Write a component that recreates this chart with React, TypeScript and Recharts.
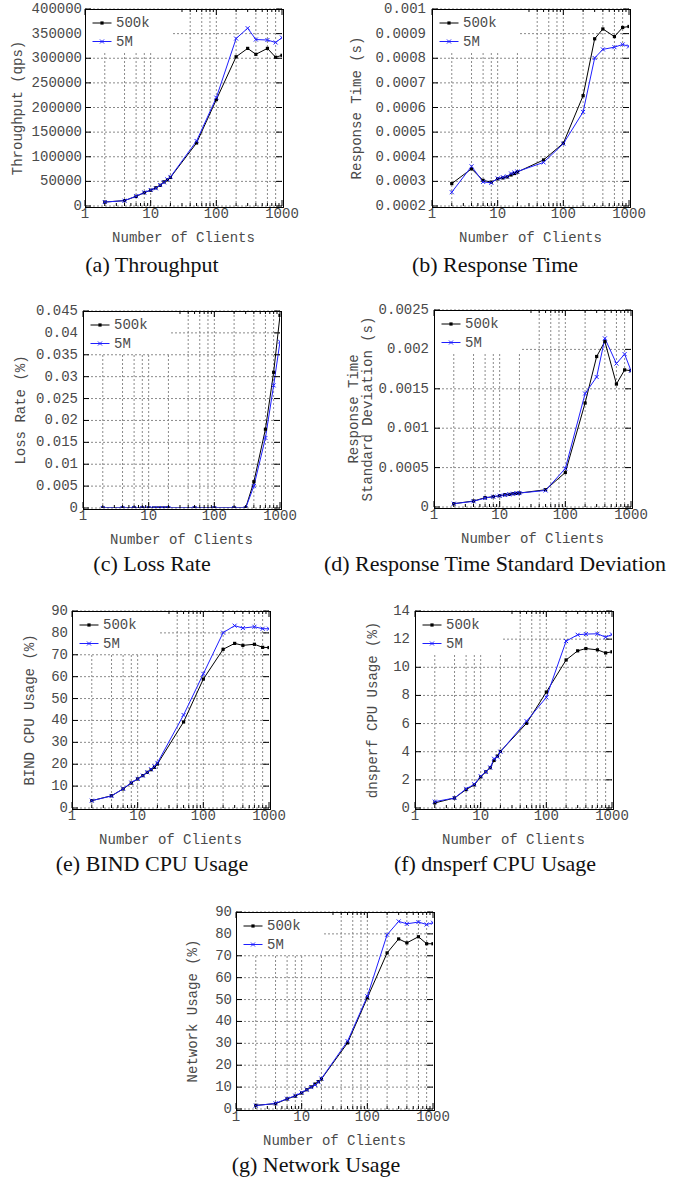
import React from 'react';
import { LineChart, Line, XAxis, YAxis, CartesianGrid, Legend } from 'recharts';

// ---------- data ----------
const CLIENTS = [2, 4, 6, 8, 10, 12, 14, 16, 18, 20, 50, 100, 200, 300, 400, 600, 800, 1000];
const X_TICKS = [1, 2, 3, 4, 5, 6, 7, 8, 9, 10, 20, 30, 40, 50, 60, 70, 80, 90, 100, 200, 300, 400, 500, 600, 700, 800, 900, 1000];
const X_GRID = [2, 4, 6, 8, 10, 20, 40, 60, 80, 100, 200, 400, 600, 800];
const X_LABELS = [1, 10, 100, 1000];
const SERIES_NAMES = ['500k', '5M'];

const throughput500k = [8000, 11000, 19500, 27000, 32000, 37000, 42000, 49000, 53000, 58000, 128000, 216000, 303000, 320000, 308000, 320000, 302000, 306000];
const throughput5M = [8000, 10800, 20000, 27500, 32500, 36000, 42500, 48000, 54000, 59000, 132000, 220000, 340000, 361000, 338000, 337000, 332000, 342000];
const throughputTicks = [0, 50000, 100000, 150000, 200000, 250000, 300000, 350000, 400000];
const throughputTickLabels = ['0', '50000', '100000', '150000', '200000', '250000', '300000', '350000', '400000'];

const rt500k = [0.000291, 0.000351, 0.000304, 0.000297, 0.00031, 0.000314, 0.000318, 0.000326, 0.000332, 0.000338, 0.000387, 0.000455, 0.000648, 0.000879, 0.000919, 0.000888, 0.000925, 0.000929];
const rt5M = [0.000256, 0.000361, 0.000298, 0.000294, 0.000312, 0.000317, 0.00032, 0.000332, 0.000336, 0.00034, 0.000377, 0.000453, 0.000582, 0.000801, 0.000836, 0.000845, 0.000856, 0.000848];
const rtTicks = [0.0002, 0.0003, 0.0004, 0.0005, 0.0006, 0.0007, 0.0008, 0.0009, 0.001];
const rtTickLabels = ['0.0002', '0.0003', '0.0004', '0.0005', '0.0006', '0.0007', '0.0008', '0.0009', '0.001'];

const loss500k = [0, 0, 0, 0, 0, 0, 0, 0, 0, 0, 0, 0, 0, 0, 0.006, 0.018, 0.031, 0.044];
const loss5M = [0, 0, 0, 0, 0, 0, 0, 0, 0, 0, 0, 0, 0, 0, 0.005, 0.016, 0.028, 0.038];
const lossTicks = [0, 0.005, 0.01, 0.015, 0.02, 0.025, 0.03, 0.035, 0.04, 0.045];
const lossTickLabels = ['0', '0.005', '0.01', '0.015', '0.02', '0.025', '0.03', '0.035', '0.04', '0.045'];

const rtsd500k = [0.000042, 0.000076, 0.000118, 0.000131, 0.000143, 0.000156, 0.00016, 0.000169, 0.000173, 0.000177, 0.000219, 0.000438, 0.00132, 0.00191, 0.0021, 0.00156, 0.00174, 0.00173];
const rtsd5M = [0.000042, 0.000072, 0.000114, 0.000131, 0.000143, 0.000152, 0.00016, 0.000169, 0.000173, 0.000177, 0.00021, 0.000489, 0.00144, 0.00165, 0.00214, 0.00182, 0.00194, 0.00173];
const rtsdTicks = [0, 0.0005, 0.001, 0.0015, 0.002, 0.0025];
const rtsdTickLabels = ['0', '0.0005', '0.001', '0.0015', '0.002', '0.0025'];

const bind500k = [3.35, 5.6, 8.7, 11.4, 13.3, 14.8, 16.3, 17.5, 18.6, 20.1, 39.3, 58.9, 72.5, 75.2, 74.3, 74.8, 73.4, 73.3];
const bind5M = [3.35, 5.5, 8.8, 11.6, 13.3, 14.8, 16.3, 17.7, 19.0, 20.6, 42.5, 61.3, 80.1, 83.3, 82.2, 82.8, 81.9, 81.9];
const pct90Ticks = [0, 10, 20, 30, 40, 50, 60, 70, 80, 90];
const pct90TickLabels = ['0', '10', '20', '30', '40', '50', '60', '70', '80', '90'];

const dnsperf500k = [0.36, 0.71, 1.31, 1.64, 2.21, 2.57, 2.86, 3.38, 3.69, 4.02, 6.02, 8.24, 10.52, 11.17, 11.33, 11.24, 11.02, 11.1];
const dnsperf5M = [0.45, 0.71, 1.36, 1.69, 2.26, 2.57, 2.88, 3.5, 3.64, 4.0, 6.17, 7.86, 11.86, 12.31, 12.36, 12.38, 12.14, 12.33];
const dnsperfTicks = [0, 2, 4, 6, 8, 10, 12, 14];
const dnsperfTickLabels = ['0', '2', '4', '6', '8', '10', '12', '14'];

const net500k = [1.7, 2.4, 4.6, 5.9, 7.3, 8.8, 10.1, 11.4, 12.5, 13.7, 30.2, 50.8, 71.3, 77.7, 75.9, 78.7, 75.5, 75.5];
const net5M = [1.5, 2.6, 4.7, 6.1, 7.5, 8.8, 10.0, 11.0, 12.3, 13.9, 31.0, 51.5, 79.6, 85.7, 84.6, 85.4, 84.3, 85.1];

// ---------- styling ----------
const ML = 90, MT = 10, MR = 60, MB = 50;
const PW = 197, PH = 197;
const SVG_W = ML + PW + MR, SVG_H = MT + PH + MB;
const MONO = '"Liberation Mono", "DejaVu Sans Mono", monospace';
const SERIF = '"Liberation Serif", "DejaVu Serif", serif';
const TEXT = '#4a4a4a';
const BLUE = '#1f1fff';
const GRID = '#8a8a8a';

type Spec = {
  left: number; top: number;
  s500: number[]; s5m: number[];
  ticks: number[]; tickLabels: string[];
  domain: [number, number];
  titles: { text: string; x: number }[];
  gap: number;
  caption: string; capX: number; capY: number;
};

const SPECS: Spec[] = [
  { left: 85, top: 9, s500: throughput500k, s5m: throughput5M, ticks: throughputTicks, tickLabels: throughputTickLabels, domain: [0, 400000], titles: [{ text: 'Throughput (qps)', x: 18 }], gap: 3, caption: '(a) Throughput', capX: 152, capY: 265 },
  { left: 432, top: 9, s500: rt500k, s5m: rt5M, ticks: rtTicks, tickLabels: rtTickLabels, domain: [0.0002, 0.001], titles: [{ text: 'Response Time (s)', x: 357 }], gap: 6, caption: '(b) Response Time', capX: 495, capY: 265 },
  { left: 83, top: 311, s500: loss500k, s5m: loss5M, ticks: lossTicks, tickLabels: lossTickLabels, domain: [0, 0.045], titles: [{ text: 'Loss Rate (%)', x: 21 }], gap: 5, caption: '(c) Loss Rate', capX: 152, capY: 564 },
  { left: 434, top: 310, s500: rtsd500k, s5m: rtsd5M, ticks: rtsdTicks, tickLabels: rtsdTickLabels, domain: [0, 0.0025], titles: [{ text: 'Response Time', x: 354 }, { text: 'Standard Deviation (s)', x: 368 }], gap: 5, caption: '(d) Response Time Standard Deviation', capX: 495, capY: 564 },
  { left: 72, top: 611, s500: bind500k, s5m: bind5M, ticks: pct90Ticks, tickLabels: pct90TickLabels, domain: [0, 90], titles: [{ text: 'BIND CPU Usage (%)', x: 30 }], gap: 4, caption: '(e) BIND CPU Usage', capX: 152, capY: 864 },
  { left: 415, top: 611, s500: dnsperf500k, s5m: dnsperf5M, ticks: dnsperfTicks, tickLabels: dnsperfTickLabels, domain: [0, 14], titles: [{ text: 'dnsperf CPU Usage (%)', x: 373 }], gap: 5, caption: '(f) dnsperf CPU Usage', capX: 495, capY: 864 },
  { left: 236, top: 912, s500: net500k, s5m: net5M, ticks: pct90Ticks, tickLabels: pct90TickLabels, domain: [0, 90], titles: [{ text: 'Network Usage (%)', x: 193 }], gap: 4, caption: '(g) Network Usage', capX: 316, capY: 1165 },
];

const isDecade = (v: number) => X_LABELS.indexOf(v) >= 0;

const SquareDot = (p: any) => {
  if (p.cx == null || p.cy == null) return <g key={p.index} />;
  return <rect key={p.index} x={p.cx - 1.6} y={p.cy - 1.6} width={3.2} height={3.2} fill="#000" />;
};
const CrossDot = (p: any) => {
  if (p.cx == null || p.cy == null) return <g key={p.index} />;
  const s = 2;
  return (
    <g key={p.index} stroke={BLUE} strokeWidth={1}>
      <line x1={p.cx - s} y1={p.cy - s} x2={p.cx + s} y2={p.cy + s} />
      <line x1={p.cx - s} y1={p.cy + s} x2={p.cx + s} y2={p.cy - s} />
    </g>
  );
};

const LegendBox = (props: any) => {
  const payload = props.payload || [];
  return (
    <svg width={86} height={42} style={{ display: 'block' }}>
      {payload.map((e: any, i: number) => {
        const y = 13 + i * 18.5;
        const col = e.color;
        return (
          <g key={i}>
            <line x1={6.5} x2={25.5} y1={y} y2={y} stroke={col} strokeWidth={1} />
            {i === 0 ? (
              <rect x={14.4} y={y - 1.6} width={3.2} height={3.2} fill={col} />
            ) : (
              <g stroke={col}>
                <line x1={14} y1={y - 2} x2={18} y2={y + 2} />
                <line x1={14} y1={y + 2} x2={18} y2={y - 2} />
              </g>
            )}
            <text x={30} y={y} dominantBaseline="central" fontFamily={MONO} fontSize={14} fill={TEXT}>{e.value}</text>
          </g>
        );
      })}
    </svg>
  );
};

function Panel({ spec }: { spec: Spec }) {
  const data = CLIENTS.map((c, i) => ({ clients: c, k500: spec.s500[i], k5m: spec.s5m[i] }));
  const yb = MT + PH;
  const xr = ML + PW;
  const labelFor = (v: number) => {
    const i = spec.ticks.indexOf(v);
    return i >= 0 ? spec.tickLabels[i] : String(v);
  };
  const BottomTick = (p: any) => {
    const v = p.payload.value;
    const x = p.payload.coordinate ?? p.x;
    const major = isDecade(v);
    return (
      <g>
        <line x1={x} x2={x} y1={yb} y2={yb - (major ? 6 : 3)} stroke="#000" />
        {major && (
          <text x={x} y={yb + 8} textAnchor="middle" dominantBaseline="central" fontFamily={MONO} fontSize={14} fill={TEXT}>{v}</text>
        )}
      </g>
    );
  };
  const TopTick = (p: any) => {
    const v = p.payload.value;
    const x = p.payload.coordinate ?? p.x;
    const major = isDecade(v);
    return <line x1={x} x2={x} y1={MT} y2={MT + (major ? 6 : 3)} stroke="#000" />;
  };
  const LeftTick = (p: any) => {
    const y = p.payload.coordinate ?? p.y;
    return (
      <g>
        <line x1={ML} x2={ML + 6} y1={y} y2={y} stroke="#000" />
        <text x={ML - spec.gap} y={y} textAnchor="end" dominantBaseline="central" fontFamily={MONO} fontSize={14} fill={TEXT}>{labelFor(p.payload.value)}</text>
      </g>
    );
  };
  const RightTick = (p: any) => {
    const y = p.payload.coordinate ?? p.y;
    return <line x1={xr} x2={xr - 6} y1={y} y2={y} stroke="#000" />;
  };

  return (
    <div style={{ position: 'absolute', left: spec.left - ML, top: spec.top - MT }}>
      <LineChart width={SVG_W} height={SVG_H} data={data} margin={{ top: MT - 1, right: MR - 1, bottom: MB - 1, left: ML - 1 }}>
        <CartesianGrid xAxisId="bottom" yAxisId="left" stroke={GRID} strokeDasharray="2 2" verticalValues={X_GRID} />
        <XAxis xAxisId="bottom" dataKey="clients" type="number" scale="log" domain={[1, 1000]} allowDataOverflow ticks={X_TICKS} interval={0} height={1} axisLine={false} tickLine={false} tick={BottomTick} />
        <XAxis xAxisId="top" orientation="top" dataKey="clients" type="number" scale="log" domain={[1, 1000]} allowDataOverflow ticks={X_TICKS} interval={0} height={1} axisLine={false} tickLine={false} tick={TopTick} />
        <YAxis yAxisId="left" type="number" domain={spec.domain} allowDataOverflow ticks={spec.ticks} interval={0} width={1} axisLine={false} tickLine={false} tick={LeftTick} />
        <YAxis yAxisId="right" orientation="right" type="number" domain={spec.domain} allowDataOverflow ticks={spec.ticks} interval={0} width={1} axisLine={false} tickLine={false} tick={RightTick} />
        <Legend layout="horizontal" verticalAlign="middle" align="center" content={LegendBox}
          wrapperStyle={{ left: ML + 1, top: MT + 1, width: 86, height: 42, background: '#fff', margin: 0, padding: 0 }} />
        <Line xAxisId="bottom" yAxisId="left" type="linear" dataKey="k500" name={SERIES_NAMES[0]} stroke="#000" strokeWidth={1} dot={SquareDot} activeDot={false} isAnimationActive={false} />
        <Line xAxisId="bottom" yAxisId="left" type="linear" dataKey="k5m" name={SERIES_NAMES[1]} stroke={BLUE} strokeWidth={1} dot={CrossDot} activeDot={false} isAnimationActive={false} />
      </LineChart>
      <div style={{ position: 'absolute', left: ML - 0.5, top: MT - 0.5, width: PW, height: PH, border: '1px solid #000', pointerEvents: 'none' }} />
    </div>
  );
}

const monoStyle: React.CSSProperties = { position: 'absolute', fontFamily: MONO, fontSize: 14, color: TEXT, whiteSpace: 'nowrap', lineHeight: 1 };

export default function App() {
  return (
    <div style={{ position: 'absolute', left: 0, top: 0, width: 678, height: 1177, background: '#fff', overflow: 'hidden' }}>
      {SPECS.map((s, i) => (
        <React.Fragment key={i}>
          <Panel spec={s} />
          {s.titles.map((t, j) => (
            <div key={j} style={{ ...monoStyle, left: t.x, top: s.top + PH / 2, transform: 'translate(-50%, -50%) rotate(-90deg)' }}>{t.text}</div>
          ))}
          <div style={{ ...monoStyle, left: s.left + PW / 2, top: s.top + PH + 31.5, transform: 'translate(-50%, -50%)' }}>Number of Clients</div>
          <div style={{ position: 'absolute', left: s.capX, top: s.capY, transform: 'translate(-50%, -50%)', fontFamily: SERIF, fontSize: 22, color: '#111', whiteSpace: 'nowrap', lineHeight: 1 }}>{s.caption}</div>
        </React.Fragment>
      ))}
    </div>
  );
}
